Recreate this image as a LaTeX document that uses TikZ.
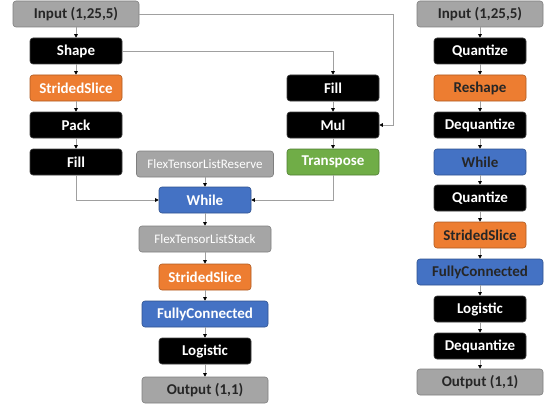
\documentclass[tikz,border=0pt]{standalone}
\usepackage{fontspec}
\setmainfont{Carlito}
\usetikzlibrary{arrows.meta}
\definecolor{cOrange}{HTML}{ED7D31}
\definecolor{cOrangeD}{HTML}{AE5A21}
\definecolor{cBlue}{HTML}{4472C4}
\definecolor{cBlueD}{HTML}{2F528F}
\definecolor{cGreen}{HTML}{70AD47}
\definecolor{cGreenD}{HTML}{507E32}
\definecolor{cGray}{HTML}{A5A5A5}
\definecolor{cGrayD}{HTML}{7F7F7F}
\definecolor{cText}{HTML}{262626}
\definecolor{cLine}{HTML}{A0A0A0}
\tikzset{
  op/.style={rounded corners=3pt, minimum height=26pt, inner sep=0pt, line width=0.6pt,
    font=\bfseries\fontsize{15}{15}\selectfont},
  narrow/.style={minimum width=92pt},
  wide/.style={minimum width=126pt},
  blk/.style={op, fill=black, draw=black!75, text=white},
  org/.style={op, fill=cOrange, draw=cOrangeD, text=white},
  orgdk/.style={op, fill=cOrange, draw=cOrangeD, text=cText},
  blu/.style={op, fill=cBlue, draw=cBlueD, text=white},
  bludk/.style={op, fill=cBlue, draw=cBlueD, text=cText},
  grn/.style={op, fill=cGreen, draw=cGreenD, text=white},
  gry/.style={op, fill=cGray, draw=cGrayD, text=cText},
  flex/.style={op, fill=cGray, draw=cGrayD, text=white, font=\fontsize{13}{13}\selectfont},
  conn/.style={draw=cLine, line width=0.6pt, -{Triangle[length=3.5pt,width=3.5pt,color=black]}}
}
\begin{document}
\begin{tikzpicture}[x=1pt,y=-1pt]
\useasboundingbox (0,0) rectangle (546,404);
% left column
\node[gry,wide]   (inA)   at (76,14)  {Input (1,25,5)};
\node[blk,narrow] (shape) at (76,51)  {Shape};
\node[org,narrow] (ssA)   at (76,88)  {StridedSlice};
\node[blk,narrow] (pack)  at (76,125) {Pack};
\node[blk,narrow] (fillA) at (76,162) {Fill};
% middle-right column
\node[blk,narrow] (fillB) at (333,88)  {Fill};
\node[blk,narrow] (mul)   at (333,125) {Mul};
\node[grn,narrow] (trans) at (333,162) {Transpose};
% center column
\node[flex,minimum width=137pt] (reserve) at (205,164) {FlexTensorListReserve};
\node[blu,narrow] (whileA) at (205,200) {While};
\node[flex,minimum width=132pt] (stack) at (205,239) {FlexTensorListStack};
\node[org,narrow] (ssB)  at (205,277) {StridedSlice};
\node[blu,wide]   (fcA)  at (205,314) {FullyConnected};
\node[blk,narrow] (logA) at (205,351) {Logistic};
\node[gry,wide]   (outA) at (205,390) {Output (1,1)};
% right column
\node[gry,wide]     (inB)    at (480,14)  {Input (1,25,5)};
\node[blk,narrow]   (qA)     at (480,51)  {Quantize};
\node[orgdk,narrow] (resh)   at (480,88)  {Reshape};
\node[blk,narrow]   (dqA)    at (480,125) {Dequantize};
\node[bludk,narrow] (whileB) at (480,162) {While};
\node[blk,narrow]   (qB)     at (480,198) {Quantize};
\node[orgdk,narrow] (ssC)    at (480,235) {StridedSlice};
\node[bludk,wide]   (fcB)    at (480,272) {FullyConnected};
\node[blk,narrow]   (logB)   at (480,309) {Logistic};
\node[blk,narrow]   (dqB)    at (480,346) {Dequantize};
\node[gry,wide]     (outB)   at (480,382) {Output (1,1)};
% connectors
\coordinate (turn) at (393,14);
\draw[conn] (inA) -- (shape);
\draw[conn] (shape) -- (ssA);
\draw[conn] (ssA) -- (pack);
\draw[conn] (pack) -- (fillA);
\draw[conn] (inA.east) -- (turn) |- (mul.east);
\draw[conn] (shape.east) -| (fillB.north);
\draw[conn] (fillB) -- (mul);
\draw[conn] (mul) -- (trans);
\draw[conn] (fillA.south) |- (whileA.west);
\draw[conn] (trans.south) |- (whileA.east);
\draw[conn] (reserve) -- (whileA);
\draw[conn] (whileA) -- (stack);
\draw[conn] (stack) -- (ssB);
\draw[conn] (ssB) -- (fcA);
\draw[conn] (fcA) -- (logA);
\draw[conn] (logA) -- (outA);
\draw[conn] (inB) -- (qA);
\draw[conn] (qA) -- (resh);
\draw[conn] (resh) -- (dqA);
\draw[conn] (dqA) -- (whileB);
\draw[conn] (whileB) -- (qB);
\draw[conn] (qB) -- (ssC);
\draw[conn] (ssC) -- (fcB);
\draw[conn] (fcB) -- (logB);
\draw[conn] (logB) -- (dqB);
\draw[conn] (dqB) -- (outB);
\end{tikzpicture}
\end{document}
